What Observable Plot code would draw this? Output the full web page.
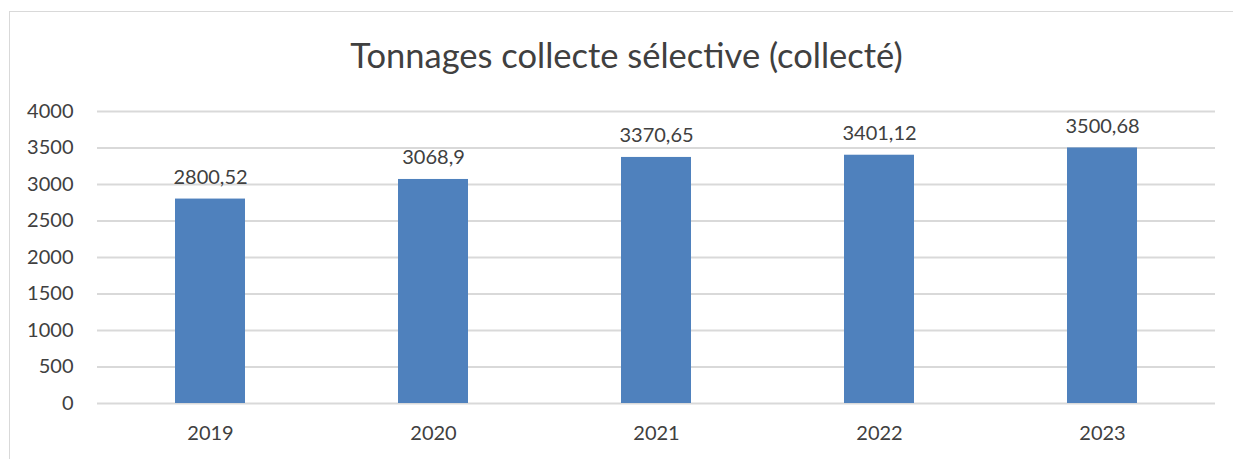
<!DOCTYPE html>
<html><head><meta charset="utf-8">
<script src="https://cdn.jsdelivr.net/npm/d3@7"></script>
<script src="https://cdn.jsdelivr.net/npm/@observablehq/plot@0.6"></script>
<style>
body{margin:0;background:#fff;}
#wrap{position:relative;width:1233px;height:459px;overflow:hidden;font-family:Lato,"Open Sans",sans-serif;}
#frameL{position:absolute;left:9px;top:11px;width:1px;height:460px;background:#D9D9D9;}
#frameT{position:absolute;left:9px;top:11px;width:1230px;height:1px;background:#D9D9D9;}
#title{position:absolute;left:0;width:1253px;top:38px;line-height:1;text-align:center;font-size:34.5px;color:#404040;}
#chart{position:absolute;left:0;top:0;}
</style></head>
<body><div id="wrap"><div id="frameL"></div><div id="frameT"></div><div id="chart"></div>
<div id="title">Tonnages collecte sélective (collecté)</div></div>
<script>
const years = ["2019","2020","2021","2022","2023"];
const tonnages = [2800.52, 3068.9, 3370.65, 3401.12, 3500.68];
const yTicks = [0,500,1000,1500,2000,2500,3000,3500,4000];
const data = years.map((y,i)=>({year:y, value:tonnages[i]}));
const fmt = v => String(v).replace(".", ",");
const chart = Plot.plot({
  width:1233, height:459,
  marginLeft:97, marginRight:18, marginTop:111, marginBottom:56,
  style:{fontFamily:"Lato, 'Open Sans', sans-serif", fontSize:"20px", color:"#404040", background:"transparent"},
  x:{domain:years, paddingInner:0.687, paddingOuter:0.3435, label:null, tickSize:0, tickPadding:22},
  y:{domain:[0,4000], ticks:yTicks, tickFormat:d=>String(d), label:null, tickSize:0, tickPadding:24, grid:false},
  marks:[
    Plot.ruleY(yTicks,{stroke:"#D9D9D9", strokeWidth:2}),
    Plot.barY(data,{x:"year", y:"value", fill:"#4F81BD"}),
    Plot.text(data,{x:"year", y:"value", text:d=>fmt(d.value), dy:-15, lineAnchor:"bottom", fill:"#404040", fontSize:20})
  ]
});
document.getElementById("chart").appendChild(chart);
</script></body></html>
